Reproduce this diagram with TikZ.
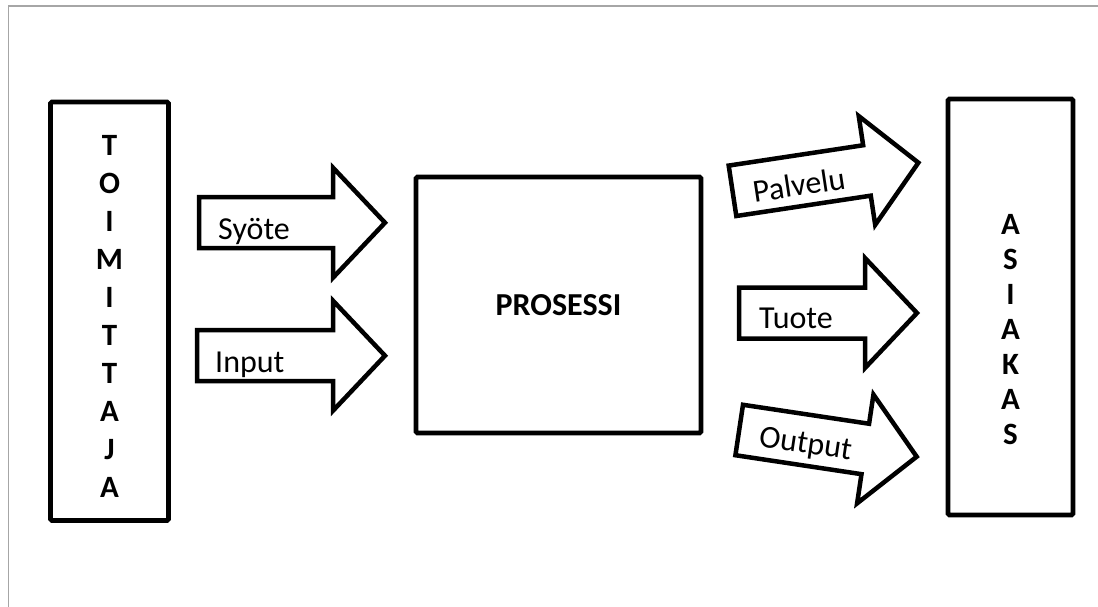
\documentclass[tikz,border=0pt]{standalone}
\usepackage{fontspec}
\setmainfont{Carlito}
\newcommand\blockarrowdraw[6]{%
  \begin{scope}[shift={#1}, rotate=#2]
    \draw[blockarrow] (0,-25.5) -- ({#3-52},-25.5) -- ({#3-52},-55) -- (#3,0)
      -- ({#3-52},55) -- ({#3-52},25.5) -- (0,25.5) -- cycle;
    \node[lbl] (#5) at #6 {#4};
  \end{scope}}
\begin{document}
\begin{tikzpicture}[x=1pt,y=-1pt,
  boxline/.style={draw, line width=4.8pt, rounded corners=1.5pt, inner sep=0pt},
  blockarrow/.style={line width=4.5pt, line join=miter},
  lbl/.style={font=\fontsize{32}{38}\selectfont, anchor=base west, inner sep=0pt, transform shape},
  vcol/.style={font=\bfseries\fontsize{31}{38}\selectfont, align=center, inner sep=0pt},
  vcolb/.style={font=\bfseries\fontsize{31}{35}\selectfont, align=center, inner sep=0pt}
]
\useasboundingbox (0,0) rectangle (1098,607);
\draw[line width=1.5pt, color={rgb,255:red,166;green,166;blue,166}] (8.3,607) -- (8.3,6) -- (1098,6);

% boxes
\node[boxline, minimum width=118pt, minimum height=418.5pt] (toimittaja) at (109.5,311.25) {};
\node[vcol] (toimittajatext) at (109.5,316) {T\\O\\I\\M\\I\\T\\T\\A\\J\\A};

\node[boxline, minimum width=285pt, minimum height=256pt,
  font=\bfseries\fontsize{32}{38}\selectfont] (prosessi) at (558.5,305) {PROSESSI};

\node[boxline, minimum width=125pt, minimum height=416pt] (asiakas) at (1010.5,307) {};
\node[vcolb] (asiakastext) at (1010.5,330) {A\\S\\I\\A\\K\\A\\S};

% arrows
\blockarrowdraw{(199,222.7)}{0}{186}{Syöte}{syote}{(19,16.8)}
\blockarrowdraw{(197,355.7)}{0}{188}{Input}{input}{(18,16.3)}
\blockarrowdraw{(732.5,190.8)}{8.6}{188}{Palvelu}{palvelu}{(20,15)}
\blockarrowdraw{(739,313)}{0}{178}{Tuote}{tuote}{(20,15.3)}
\blockarrowdraw{(739.2,430)}{-8.55}{179.5}{Output}{output}{(21,13)}
\end{tikzpicture}
\end{document}
